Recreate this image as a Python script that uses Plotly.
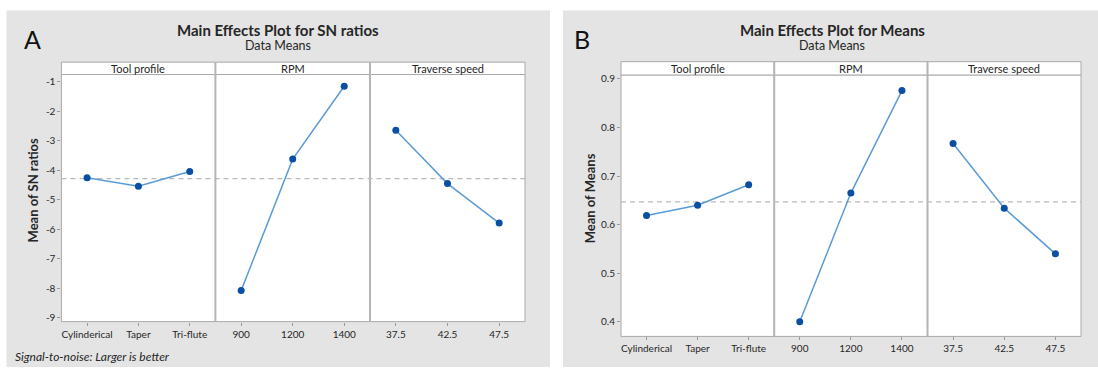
import plotly.graph_objects as go

W, H = 1098, 369

# ---------------- data ----------------
factors = ["Tool profile", "RPM", "Traverse speed"]
tool_levels = ["Cylinderical", "Taper", "Tri-flute"]
rpm_levels = ["900", "1200", "1400"]
speed_levels = ["37.5", "42.5", "47.5"]

sn_tool = [-4.25, -4.54, -4.04]
sn_rpm = [-8.08, -3.62, -1.15]
sn_speed = [-2.64, -4.45, -5.79]

mean_tool = [0.619, 0.640, 0.682]
mean_rpm = [0.400, 0.665, 0.876]
mean_speed = [0.767, 0.634, 0.540]

sn_ticks = [-9, -8, -7, -6, -5, -4, -3, -2, -1]
mean_ticks = [0.4, 0.5, 0.6, 0.7, 0.8, 0.9]

# ---------------- styling ----------------
FONT = "Lato"
TXT = "#262626"
PANEL_BG = "#e4e4e4"
FRAME = "#a9a9a9"
LINE_C = "#5b9bd5"
MARK_C = "#0b4fa3"


def px(x):
    return x / W


def py(y):
    return 1 - y / H


charts = [
    dict(
        yname="y", levels=[tool_levels, rpm_levels, speed_levels],
        vals=[sn_tool, sn_rpm, sn_speed], ticks=sn_ticks,
        yrange=[-9.134, -0.75], plot_top=72.5, plot_bot=323,
        strip_top=60, xs=[61.4, 215.4, 370, 525],
        bg=[6.5, 550], title="Main Effects Plot for SN ratios", tcx=278,
        letter="A", lx=32, ytitle="Mean of SN ratios", ytx=33, yty=190,
        ticktext=["-9", "-8", "-7", "-6", "-5", "-4", "-3", "-2", "-1"],
    ),
    dict(
        yname="y2", levels=[tool_levels, rpm_levels, speed_levels],
        vals=[mean_tool, mean_rpm, mean_speed], ticks=mean_ticks,
        yrange=[0.370, 0.908], plot_top=73, plot_bot=338,
        strip_top=59.5, xs=[621, 774.2, 927.5, 1081],
        bg=[563, 1098], title="Main Effects Plot for Means", tcx=832,
        letter="B", lx=582, ytitle="Mean of Means", ytx=590, yty=198,
        ticktext=["0.4", "0.5", "0.6", "0.7", "0.8", "0.9"],
    ),
]

fig = go.Figure()
shapes = []
annotations = []
layout = {}

# gray panels first
for c in charts:
    shapes.append(dict(type="rect", xref="paper", yref="paper",
                       x0=px(c["bg"][0]), x1=px(c["bg"][1]), y0=0, y1=py(7.5),
                       fillcolor=PANEL_BG, line=dict(width=0), layer="below"))

axis_idx = 1
for ci, c in enumerate(charts):
    xs = c["xs"]
    # white plot area + strip
    shapes.append(dict(type="rect", xref="paper", yref="paper",
                       x0=px(xs[0]), x1=px(xs[3]), y0=py(c["plot_bot"]), y1=py(c["plot_top"]),
                       fillcolor="white", line=dict(width=1, color=FRAME), layer="below"))
    shapes.append(dict(type="rect", xref="paper", yref="paper",
                       x0=px(xs[0]), x1=px(xs[3]), y0=py(c["plot_top"]), y1=py(c["strip_top"]),
                       fillcolor="white", line=dict(width=1, color=FRAME), layer="below"))
    for d in (xs[1], xs[2]):
        shapes.append(dict(type="line", xref="paper", yref="paper",
                           x0=px(d), x1=px(d), y0=py(c["plot_bot"]), y1=py(c["strip_top"]),
                           line=dict(width=2, color="#b4b4b4"), layer="below"))

    # grand mean reference line
    allv = [v for arr in c["vals"] for v in arr]
    gm = sum(allv) / len(allv)
    shapes.append(dict(type="line", xref="paper", yref=c["yname"],
                       x0=px(xs[0]), x1=px(xs[3]), y0=gm, y1=gm,
                       line=dict(width=1.2, color="#b9b9b9", dash="5px,4px"), layer="below"))

    yaxis_key = "yaxis" if c["yname"] == "y" else "yaxis2"
    layout[yaxis_key] = dict(
        domain=[py(c["plot_bot"]), py(c["plot_top"])],
        range=c["yrange"], tickvals=c["ticks"], ticktext=c["ticktext"],
        ticks="outside", ticklen=3, tickcolor="#9a9a9a", tickwidth=1,
        showgrid=False, zeroline=False, showline=False,
        tickfont=dict(family=FONT, size=10, color=TXT),
        anchor="x" if c["yname"] == "y" else "x4", fixedrange=True,
    )

    for k in range(3):
        xname = "x" if axis_idx == 1 else f"x{axis_idx}"
        xkey = "xaxis" if axis_idx == 1 else f"xaxis{axis_idx}"
        layout[xkey] = dict(
            domain=[px(xs[k]), px(xs[k + 1])],
            type="category", categoryarray=c["levels"][k], range=[-0.5, 2.5],
            anchor=c["yname"], ticks="outside", ticklen=3, tickcolor="#9a9a9a",
            showgrid=False, zeroline=False, showline=False,
            tickfont=dict(family=FONT, size=10, color=TXT), fixedrange=True,
        )
        fig.add_trace(go.Scatter(
            x=c["levels"][k], y=c["vals"][k], xaxis=xname, yaxis=c["yname"],
            mode="lines+markers", line=dict(color=LINE_C, width=1.5),
            marker=dict(color=MARK_C, size=7), showlegend=False, hoverinfo="x+y",
        ))
        # strip label
        annotations.append(dict(
            text=factors[k], xref="paper", yref="paper",
            x=px((xs[k] + xs[k + 1]) / 2), y=py((c["strip_top"] + c["plot_top"]) / 2),
            showarrow=False, xanchor="center", yanchor="middle",
            font=dict(family=FONT, size=11, color=TXT),
        ))
        axis_idx += 1

    # titles
    annotations.append(dict(text="<b>" + c["title"] + "</b>", xref="paper", yref="paper",
                            x=px(c["tcx"]), y=py(27), showarrow=False,
                            xanchor="center", yanchor="middle",
                            font=dict(family=FONT, size=15, color=TXT)))
    annotations.append(dict(text="Data Means", xref="paper", yref="paper",
                            x=px(c["tcx"]), y=py(43.5), showarrow=False,
                            xanchor="center", yanchor="middle",
                            font=dict(family=FONT, size=12.5, color=TXT)))
    annotations.append(dict(text=c["letter"], xref="paper", yref="paper",
                            x=px(c["lx"]), y=py(36), showarrow=False,
                            xanchor="center", yanchor="middle",
                            font=dict(family=FONT, size=25, color="#111111")))
    annotations.append(dict(text="<b>" + c["ytitle"] + "</b>", xref="paper", yref="paper",
                            x=px(c["ytx"]), y=py(c["yty"]), showarrow=False,
                            textangle=-90, xanchor="center", yanchor="middle",
                            font=dict(family=FONT, size=13, color=TXT)))

annotations.append(dict(text="<i>Signal-to-noise: Larger is better</i>", xref="paper", yref="paper",
                        x=px(13), y=py(358), showarrow=False,
                        xanchor="left", yanchor="middle",
                        font=dict(family=FONT, size=12, color=TXT)))

fig.update_layout(
    width=W, height=H, margin=dict(l=0, r=0, t=0, b=0),
    paper_bgcolor="white", plot_bgcolor="rgba(0,0,0,0)",
    shapes=shapes, annotations=annotations, showlegend=False,
    **layout,
)

fig.write_html("out.html", config={"displayModeBar": False})
